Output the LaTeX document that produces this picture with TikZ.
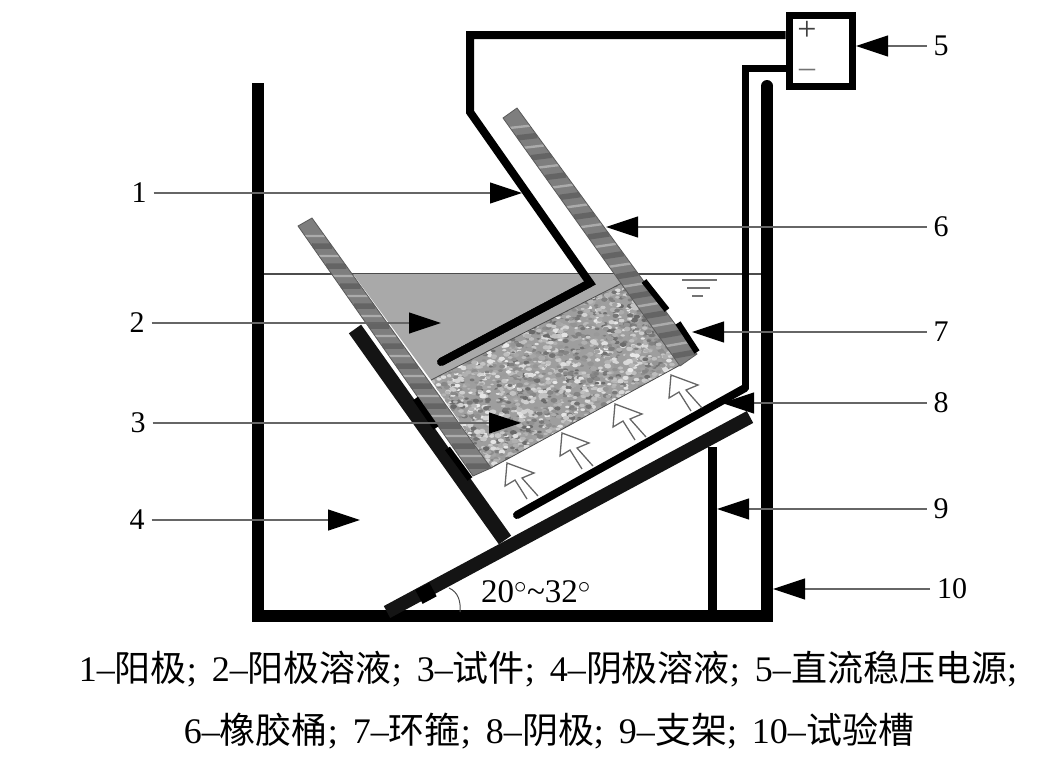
\documentclass[tikz,border=0pt]{standalone}
\usepackage{fontspec}
\setmainfont{Liberation Serif}
\newfontfamily\cjk{Noto Sans CJK SC}
\usetikzlibrary{arrows.meta,calc}
\newcommand{\capsep}{;\hspace{15pt}}
\begin{document}
\begin{tikzpicture}[
    x=1pt,y=-1pt,
    font=\rmfamily\fontsize{30}{33}\selectfont,
    thickwire/.style={line width=8pt,black},
    wallline/.style={line width=12pt,black},
    platebar/.style={line width=15pt,black!92},
    hoopbar/.style={line width=6pt,black},
    leader/.style={line width=1.2pt,black!60,-{Triangle[length=32pt,width=21pt,fill=black,color=black]}},
    numlabel/.style={inner sep=0pt,outer sep=7pt},
    ionarrow/.style={draw=black!60,line width=1.3pt,fill=none},
    bucketwall/.style={draw=black!65,line width=.8pt}
  ]
    \definecolor{wallgray}{HTML}{7E7E7E}
    \definecolor{anolyte}{HTML}{A9A9A9}
    \useasboundingbox (0,0) rectangle (1053,763);
    % tank level and anode solution
    \draw[black!70,line width=1.2pt] (263,274)--(762,274);
    \fill[anolyte] (353,274)--(616,274)--(622,283)--(431,380)--cycle;
    % specimen
    \fill[black!38] (431,380)--(622,283)--(682,364)--(491,468)--cycle;
    \begin{scope}
      \clip (431,380)--(622,283)--(682,364)--(491,468)--cycle;
      \pgfmathsetseed{4711}
      \foreach \i in {1,...,3200}{
        \pgfmathsetmacro\gx{431+251*rnd}
        \pgfmathsetmacro\gy{283+185*rnd}
        \pgfmathsetmacro\gr{.9+1.6*rnd}
        \pgfmathsetmacro\gv{int(8+52*rnd)}
        \fill[black!\gv] (\gx,\gy) ellipse[x radius=\gr+1,y radius=\gr];
      }
    \end{scope}
    \draw[black!70,line width=.8pt] (431,380)--(622,283);
    \draw[black!70,line width=.8pt] (491,468)--(682,364);
    % bucket walls
    \coordinate (la) at (298,226);
    \coordinate (lb) at (312,218);
    \coordinate (lc) at (491,468);
    \coordinate (ld) at (473,476);
    \coordinate (ra) at (503,118);
    \coordinate (rb) at (517,108);
    \coordinate (rc) at (697,354);
    \coordinate (rd) at (680,366);
    \foreach \wa/\wb/\wc/\wd in {la/lb/lc/ld,ra/rb/rc/rd}{
      \begin{scope}
        \clip (\wa)--(\wb)--(\wc)--(\wd)--cycle;
        \fill[wallgray] (\wa)--(\wb)--(\wc)--(\wd)--cycle;
        \foreach \t in {.04,.12,...,.96}{
          \draw[black!25,line width=2.4pt,opacity=.7] ($(\wa)!\t!(\wd)$)--($(\wb)!\t+.032!(\wc)$);
          \draw[black!65,line width=5.5pt,opacity=.7] ($(\wa)!\t+.04!(\wd)$)--($(\wb)!\t+.072!(\wc)$);
        }
      \end{scope}
      \draw[bucketwall] (\wa)--(\wb)--(\wc)--(\wd)--cycle;
    }
    \draw[hoopbar] (644,281)--(667,310);
    \draw[hoopbar] (678,323)--(697,352);
    % tank, plates and support
    \draw[wallline] (258,83)--(258,616)--(767,616)--(767,86);
    \fill[black] (767,86) circle[radius=6];
    \draw[line width=9pt,black] (712,447)--(712,612);
    \draw[platebar] (355,329)--(505,540);
    \draw[hoopbar] (415.5,398.5)--(436,428);
    \draw[hoopbar] (447.5,448.5)--(470,479);
    \draw[platebar,line width=13.5pt] (387,612)--(750,417);
    \draw[line width=15.5pt,black] (419,597)--(433,589.5);
    % power supply and wires
    \node[draw,line width=7pt,minimum width=63pt,minimum height=71pt,inner sep=0pt] (supply) at (820.5,50.5) {};
    \node[inner sep=0pt,font=\rmfamily\fontsize{34}{34}\selectfont,black!75] (plus) at (807,31) {+};
    \node[inner sep=0pt,font=\rmfamily\fontsize{32}{32}\selectfont,black!55] (minus) at (807,73) {--};
    \draw[thickwire] (supply.west|-0,35)--(470,35)--(470,112)--(590,283)--(441,362);
    \draw[thickwire,line cap=round] (590,283)--(441,362);
    \draw[thickwire,line width=7pt] (supply.west|-0,68)--(745,68)--(745,388);
    \draw[thickwire,line cap=round] (745,388)--(517,515);
    % ion arrows
    \foreach \ax/\ay in {507/463,562/433,615/404,671/375}{
      \draw[ionarrow,shift={(\ax,\ay)}] (20,36)--(8,17)--(-2,23)--(0,0)--(27,10)--(15,15)--(31,33);
    }
    % level mark
    \draw[black!55,line width=2pt] (682,280)--(717,280);
    \draw[black!55,line width=2pt] (687,288)--(710,288);
    \draw[black!55,line width=2pt] (692,296)--(703,296);
    % angle
    \draw[black!70,line width=1pt] (449,588) .. controls (458,592) and (461,601) .. (460,612);
    \node[inner sep=0pt] (anglelab) at (536,592) {\fontsize{33}{33}\selectfont 20$^\circ$\textasciitilde 32$^\circ$};
    % leaders
    \node[numlabel] (lab1) at (139,193) {1};
    \node[numlabel] (lab2) at (137,323) {2};
    \node[numlabel] (lab3) at (138,423) {3};
    \node[numlabel] (lab4) at (137,520) {4};
    \node[numlabel] (lab5) at (941,46) {5};
    \node[numlabel] (lab6) at (941,227) {6};
    \node[numlabel] (lab7) at (941,332) {7};
    \node[numlabel] (lab8) at (941,403) {8};
    \node[numlabel] (lab9) at (941,509) {9};
    \node[numlabel] (lab10) at (952,589) {10};
    \coordinate (tip1) at (522,193);
    \coordinate (tip2) at (441,323);
    \coordinate (tip3) at (521,423);
    \coordinate (tip4) at (360,520);
    \coordinate (tip5) at (856,46);
    \coordinate (tip6) at (606,227);
    \coordinate (tip7) at (692,332);
    \coordinate (tip8) at (722,403);
    \coordinate (tip9) at (717,509);
    \coordinate (tip10) at (773,589);
    \foreach \i in {1,...,10}{
      \draw[leader] (lab\i)--(tip\i);
    }
    % caption
    \node[inner sep=0pt,font=\rmfamily\fontsize{36}{36}\selectfont] (capone) at (548,669)
      {1--{\cjk 阳极}\capsep 2--{\cjk 阳极溶液}\capsep 3--{\cjk 试件}\capsep 4--{\cjk 阴极溶液}\capsep 5--{\cjk 直流稳压电源};};
    \node[inner sep=0pt,font=\rmfamily\fontsize{36}{36}\selectfont] (captwo) at (549,731)
      {6--{\cjk 橡胶桶}\capsep 7--{\cjk 环箍}\capsep 8--{\cjk 阴极}\capsep 9--{\cjk 支架}\capsep 10--{\cjk 试验槽}};
  \end{tikzpicture}
\end{document}
